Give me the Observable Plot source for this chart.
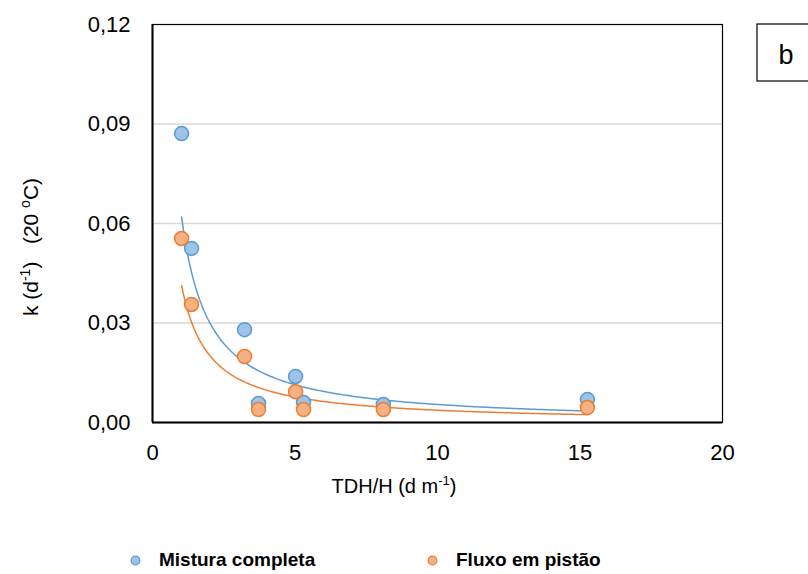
<!DOCTYPE html>
<html>
<head>
<meta charset="utf-8">
<script src="https://cdn.jsdelivr.net/npm/d3@7"></script>
<script src="https://cdn.jsdelivr.net/npm/@observablehq/plot@0.6"></script>
<style>
  html, body { margin: 0; padding: 0; background: #fff; }
  #wrap { position: relative; width: 808px; height: 574px; overflow: hidden; font-family: "Liberation Sans", Arial, sans-serif; }
  #legend { position: absolute; left: 0; top: 548px; width: 808px; height: 24px; }
  .item { position: absolute; top: 0; height: 24px; display: flex; align-items: center; font-weight: bold; font-size: 19px; color: #000; white-space: nowrap; }
  .item svg { margin-right: 18px; }
</style>
</head>
<body>
<div id="wrap"><div id="chart"></div><div id="legend"></div></div>
<script>
// Data
const tdhH = [1.02, 1.37, 3.23, 3.72, 5.02, 5.30, 8.10, 15.26];
const kMistura = [0.0871, 0.0525, 0.0280, 0.0057, 0.0139, 0.0060, 0.0054, 0.0069];
const kFluxo = [0.0555, 0.0356, 0.0199, 0.0039, 0.0093, 0.0039, 0.0039, 0.0045];
const seriesNames = ["Mistura completa", "Fluxo em pistão"];
const xTicks = [0, 5, 10, 15, 20];
const yTicks = [0, 0.03, 0.06, 0.09, 0.12];

const colors = {
  "Mistura completa": {fill: "#9dc3e6", stroke: "#5b9bd5", line: "#5b9bd5"},
  "Fluxo em pistão": {fill: "#f4b183", stroke: "#ed7d31", line: "#ed7d31"}
};

const points = [];
tdhH.forEach((x, i) => points.push({x, y: kMistura[i], s: seriesNames[0]}));
tdhH.forEach((x, i) => points.push({x, y: kFluxo[i], s: seriesNames[1]}));

// Power trendline (least squares on logs, like a spreadsheet power fit)
function powerFit(xs, ys, name) {
  const lx = xs.map(Math.log), ly = ys.map(Math.log);
  const mx = d3.mean(lx), my = d3.mean(ly);
  const b = d3.sum(lx, (v, i) => (v - mx) * (ly[i] - my)) / d3.sum(lx, v => (v - mx) ** 2);
  const a = Math.exp(my - b * mx);
  const [x0, x1] = d3.extent(xs);
  return d3.range(0, 201).map(t => {
    const x = x0 + (x1 - x0) * t / 200;
    return {x, y: a * Math.pow(x, b), s: name};
  });
}
const trend = [...powerFit(tdhH, kMistura, seriesNames[0]), ...powerFit(tdhH, kFluxo, seriesNames[1])];

const fmt = d => d3.format(".2f")(d).replace(".", ",");

const chart = Plot.plot({
  width: 808,
  height: 530,
  marginLeft: 152,
  marginRight: 86,
  marginTop: 24,
  marginBottom: 108,
  style: {fontFamily: "'Liberation Sans', Arial, sans-serif", fontSize: "22px", background: "#fff", color: "#000"},
  x: {domain: [0, 20], ticks: xTicks, tickSize: 0, tickPadding: 22, label: null},
  y: {domain: [0, 0.12], ticks: yTicks, tickSize: 0, tickPadding: 22, tickFormat: fmt, label: null},
  marks: [
    Plot.gridY(yTicks.slice(1, -1), {stroke: "#d9d9d9", strokeOpacity: 1, strokeWidth: 1.5}),
    Plot.frame({stroke: "#000", strokeWidth: 1.2}),
    Plot.ruleX([0], {stroke: "#000", strokeWidth: 2}),
    Plot.ruleY([0], {stroke: "#000", strokeWidth: 2}),
    Plot.line(trend.filter(d => d.s === seriesNames[0]), {x: "x", y: "y", stroke: colors[seriesNames[0]].line, strokeWidth: 1.5}),
    Plot.line(trend.filter(d => d.s === seriesNames[1]), {x: "x", y: "y", stroke: colors[seriesNames[1]].line, strokeWidth: 1.5}),
    Plot.dot(points, {x: "x", y: "y", r: 7, fill: d => colors[d.s].fill, stroke: d => colors[d.s].stroke, strokeWidth: 1.5})
  ]
});
document.getElementById("chart").appendChild(chart);

// Axis titles and panel tag
const svg = d3.select(chart);
const xl = svg.append("text")
  .attr("x", 394).attr("y", 493)
  .attr("text-anchor", "middle")
  .attr("font-size", 20).attr("fill", "#000");
xl.append("tspan").text("TDH/H (d m");
xl.append("tspan").attr("dy", -8).attr("font-size", 13).text("-1");
xl.append("tspan").attr("dy", 8).text(")");

const yl = svg.append("text")
  .attr("transform", "translate(38,247) rotate(-90)")
  .attr("text-anchor", "middle")
  .style("white-space", "pre")
  .attr("font-size", 21).attr("fill", "#000");
yl.append("tspan").text("k (d");
yl.append("tspan").attr("dy", -8).attr("font-size", 14).text("-1");
yl.append("tspan").attr("dy", 8).text(")   (20 ");
yl.append("tspan").attr("dy", -8).attr("font-size", 14).text("o");
yl.append("tspan").attr("dy", 8).text("C)");

svg.append("rect").attr("x", 757).attr("y", 24).attr("width", 80).attr("height", 57)
  .attr("fill", "#fff").attr("stroke", "#000").attr("stroke-width", 1.2);
svg.append("text").attr("x", 786).attr("y", 64).attr("text-anchor", "middle")
  .attr("font-size", 27).attr("fill", "#000").text("b");

// Legend
const legend = document.getElementById("legend");
const legendLeft = [130, 427];
seriesNames.forEach((name, i) => {
  const div = document.createElement("div");
  div.className = "item";
  div.style.left = legendLeft[i] + "px";
  div.innerHTML = `<svg width="11" height="11"><circle cx="5.5" cy="5.5" r="4.3" fill="${colors[name].fill}" stroke="${colors[name].stroke}" stroke-width="1.3"/></svg>`;
  const span = document.createElement("span");
  span.textContent = name;
  div.appendChild(span);
  legend.appendChild(div);
});
</script>
</body>
</html>
